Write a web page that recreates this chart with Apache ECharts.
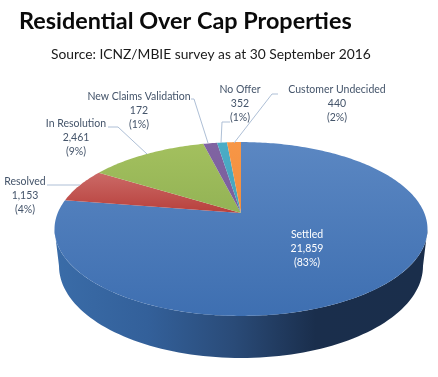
<!DOCTYPE html>
<html>
<head>
<meta charset="utf-8">
<style>html,body{margin:0;padding:0;background:#fff}#chart{width:438px;height:377px}</style>
<script src="https://cdn.jsdelivr.net/npm/echarts@6/dist/echarts.min.js"></script>
</head>
<body>
<div id="chart"></div>
<script>
const categories = ["Settled", "Resolved", "In Resolution", "New Claims Validation", "No Offer", "Customer Undecided"];
const counts = ["21,859", "1,153", "2,461", "172", "352", "440"];
const percents = ["83%", "4%", "9%", "1%", "1%", "2%"];
// slice sweep as measured on the picture (%), the reference does not draw them quite in proportion to the counts
const drawnShare = [77.5, 6.3, 12.3, 1.43, 1.03, 1.44];

const colors = [
  ["#5b87c2", "#3e6fb1"],
  ["#cb6a67", "#b8403c"],
  ["#a3c05e", "#93b355"],
  ["#8064a2", "#7a5e9c"],
  ["#4bacc6", "#45a3bc"],
  ["#f79646", "#f28e3e"],
];

// label centre x, first line y, leader line
const labelLayout = [
  { x: 307, y: 235, color: "#fff" },
  { x: 25, y: 182, line: [[47, 185], [80, 185]] },
  { x: 76, y: 124, line: [[108, 127], [118, 127], [147, 154]] },
  { x: 139, y: 97, line: [[191, 99], [194, 99], [208, 143]] },
  { x: 240, y: 90, line: [[230, 122], [222, 122], [221, 143]] },
  { x: 337, y: 90, line: [[278, 94], [272, 94], [234, 143]] },
];

// tilted disc: projective map of the unit circle
const apex = { x: 241, y: 213 };
const P = { a: 183.3, b: 84, p: 0.184 };
const rimPoint = (deg) => {
  const t = (deg * Math.PI) / 180;
  const X = Math.sin(t);
  const Y = Math.cos(t);
  const w = 1 + P.p * Y;
  return [apex.x + (P.a * X) / w, apex.y - (P.b * Y) / w];
};
const arc = (from, to) => {
  const pts = [];
  const n = Math.max(2, Math.ceil(Math.abs(to - from)));
  for (let i = 0; i <= n; i++) pts.push(rimPoint(from + ((to - from) * i) / n));
  return pts;
};
// underside of the disc, a plain ellipse
const base = { x: 241, y: 266, a: 182, b: 92 };
const baseArc = () => {
  const pts = [];
  for (let d = 270; d >= 90; d -= 2) {
    const t = (d * Math.PI) / 180;
    pts.push([base.x + base.a * Math.sin(t), base.y - base.b * Math.cos(t)]);
  }
  return pts;
};

const chart = echarts.init(document.getElementById("chart"), null, { renderer: "canvas" });

const startDeg = (i) => drawnShare.slice(0, i).reduce((a, b) => a + b, 0) * 3.6;

chart.setOption({
  backgroundColor: "#fff",
  animation: false,
  title: [
    {
      text: "Residential Over Cap Properties",
      left: 14,
      top: 5,
      textStyle: { fontFamily: "Lato", fontWeight: "bold", fontSize: 23.4, color: "#0a0a0a" },
    },
    {
      text: "Source: ICNZ/MBIE survey as at 30 September 2016",
      left: 46,
      top: 43,
      textStyle: { fontFamily: "Lato", fontWeight: "normal", fontSize: 13.8, color: "#1a1a1a" },
    },
  ],
  series: [
    {
      // side wall, from the rim's left extreme round the front to its right extreme
      type: "custom",
      coordinateSystem: "none",
      silent: true,
      data: [0],
      renderItem: () => ({
        type: "polygon",
        shape: { points: arc(100.6, 259.4).concat(baseArc()) },
        style: {
          fill: new echarts.graphic.LinearGradient(0, 0, 1, 0, [
            { offset: 0, color: "#3a6ca8" },
            { offset: 0.25, color: "#33609a" },
            { offset: 0.48, color: "#2a4b78" },
            { offset: 0.7, color: "#1a2e4c" },
            { offset: 1, color: "#1a2e4b" },
          ]),
        },
      }),
    },
    {
      // top face
      type: "custom",
      coordinateSystem: "none",
      silent: true,
      data: drawnShare,
      renderItem: (params) => {
        const i = params.dataIndex;
        const from = startDeg(i);
        const to = from + drawnShare[i] * 3.6;
        const pts = [[apex.x, apex.y]].concat(arc(from, to));
        return {
          type: "polygon",
          shape: { points: pts },
          style: {
            fill: new echarts.graphic.LinearGradient(0, 0, 0, 1, [
              { offset: 0, color: colors[i][0] },
              { offset: 1, color: colors[i][1] },
            ]),
          },
        };
      },
    },
    {
      // labels and leader lines
      type: "custom",
      coordinateSystem: "none",
      silent: true,
      data: categories,
      renderItem: (params) => {
        const i = params.dataIndex;
        const l = labelLayout[i];
        const lines = [categories[i], counts[i], "(" + percents[i] + ")"];
        const children = lines.map((t, k) => ({
          type: "text",
          style: {
            text: t,
            x: l.x,
            y: l.y + k * 14,
            align: "center",
            verticalAlign: "middle",
            fill: l.color || "#44546a",
            font: "10.5px Lato",
          },
        }));
        if (l.line) {
          children.push({
            type: "polyline",
            shape: { points: l.line },
            style: { stroke: "#aebfd6", lineWidth: 1, fill: null },
          });
        }
        return { type: "group", children };
      },
    },
  ],
});
</script>
</body>
</html>
